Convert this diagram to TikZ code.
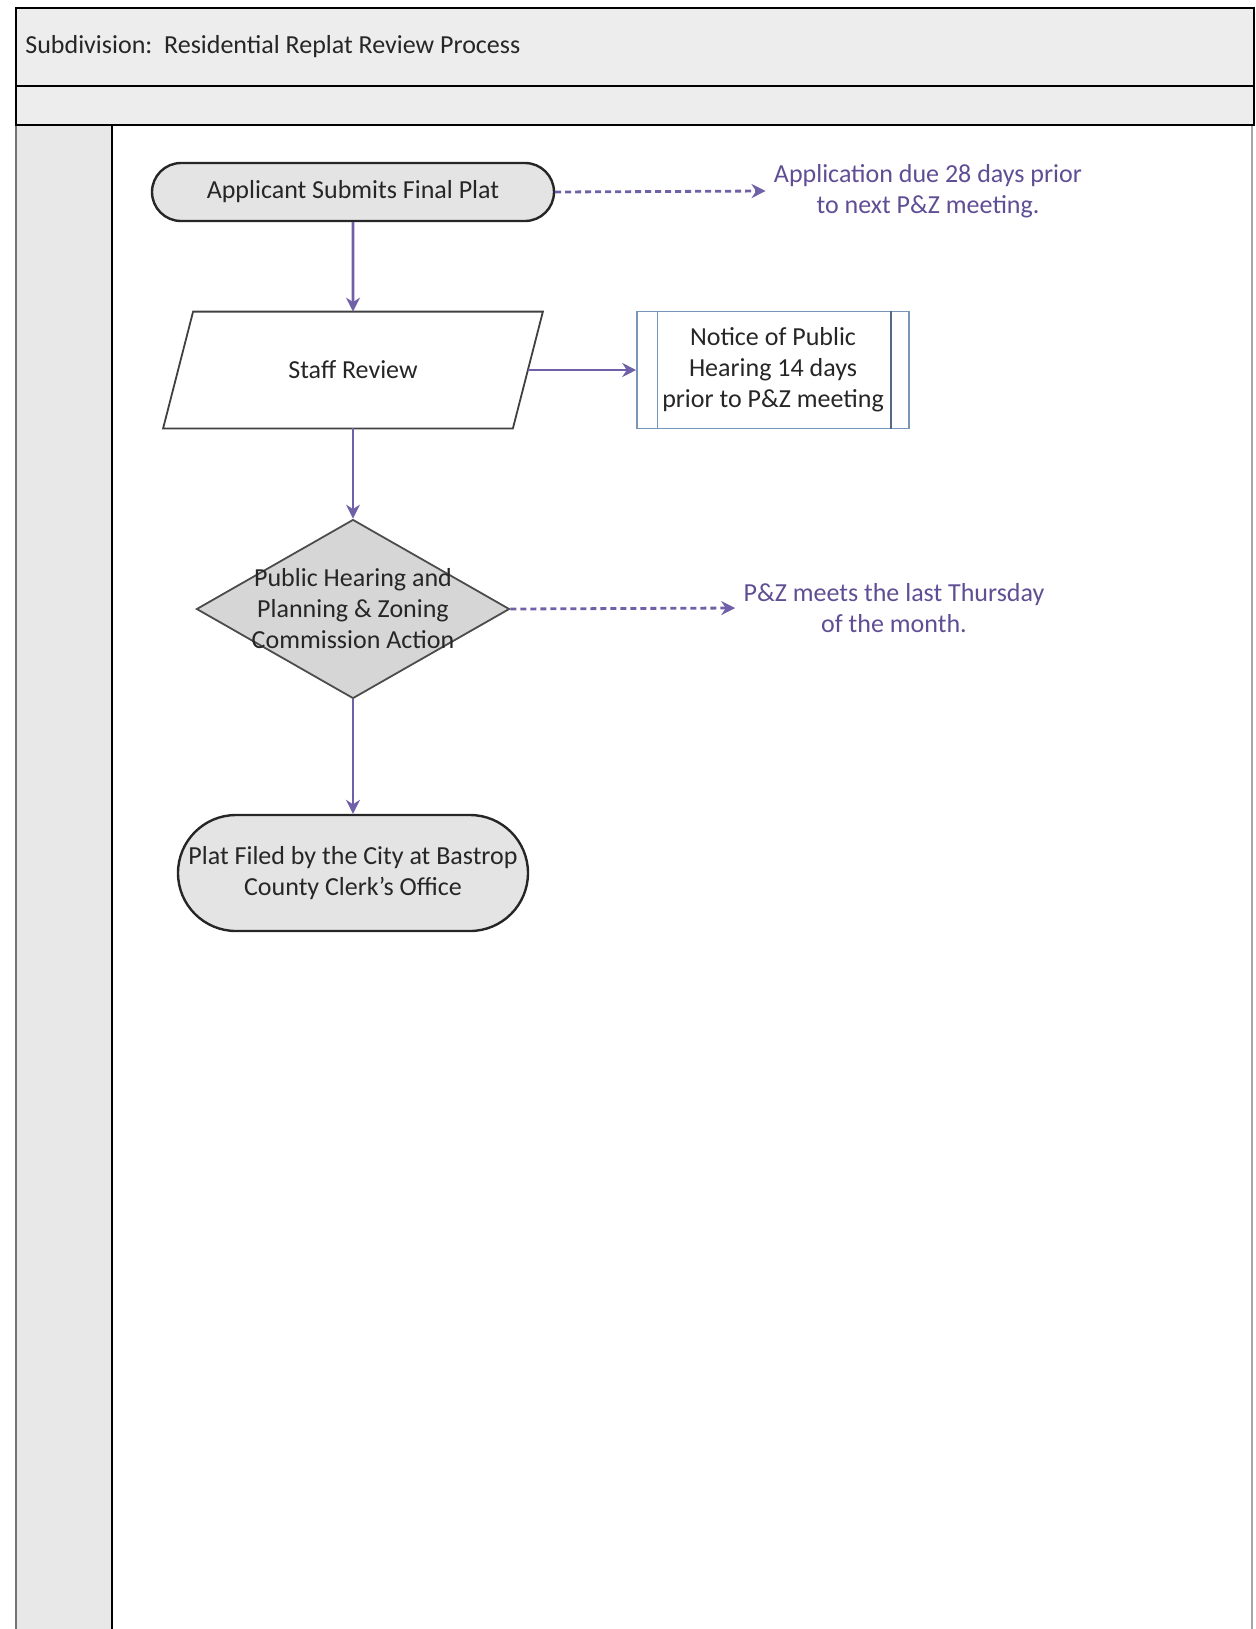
\documentclass[tikz,border=0pt]{standalone}
\usepackage{fontspec}
\setmainfont{Carlito}
\usetikzlibrary{shapes.geometric,shapes.misc,arrows.meta}
\definecolor{flowpurple}{RGB}{112,96,168}
\definecolor{notepurple}{RGB}{96,78,148}
\definecolor{laneGray}{RGB}{232,232,232}
\definecolor{boxGray}{RGB}{228,228,228}
\definecolor{noticeBlue}{RGB}{120,150,185}

\begin{document}
\begin{tikzpicture}[
            x=0.5pt, y=-0.5pt,
            font=\fontsize{13}{15.5}\selectfont,
            terminal/.style={
                rounded rectangle,
                draw=black!85,
                line width=1.2pt,
                fill=boxGray,
                align=center,
                text=black!85,
                inner sep=0pt
            },
            process/.style={
                rectangle,
                draw=none,
                minimum width=189.5pt,
                minimum height=58pt,
                inner sep=0pt,
                text=black!85
            },
            slantline/.style={draw=black!75, line width=0.9pt, line join=miter},
            decision/.style={
                diamond,
                draw=black!70,
                line width=0.9pt,
                fill=boxGray!94!black,
                minimum width=156.5pt,
                minimum height=89.5pt,
                inner sep=0pt
            },
            notice/.style={
                rectangle,
                draw=noticeBlue,
                line width=0.8pt,
                minimum width=136pt,
                minimum height=58.5pt,
                align=center,
                text=black!85
            },
            note/.style={align=center, text=notepurple, inner sep=4pt},
            arrow/.style={-{Stealth[length=7pt,width=7pt]}, draw=flowpurple, line width=1.4pt},
            dasharrow/.style={arrow, dash pattern=on 3pt off 2pt}
        ]
        \useasboundingbox (0,0) rectangle (1256,1629);

        % Pool and lanes
        \draw[fill=laneGray, draw=black!55, line width=0.8pt] (16,125) rectangle (112,1640);
        \draw[black, line width=1.1pt] (112,125) -- (112,1640);
        \draw[black!35, line width=0.6pt] (1252,125) -- (1252,1640);
        \draw[fill=laneGray!80, draw=black, line width=1pt] (16,86) rectangle (1254,125);
        \draw[fill=laneGray!80, draw=black, line width=1pt] (16,8) rectangle (1254,86);
        \node[anchor=west, inner sep=0pt, text=black!85] (pooltitle) at (25,47) {Subdivision:\ \ Residential Replat Review Process};

        % Flow steps
        \node[terminal, minimum width=201pt, minimum height=29pt] (submit) at (353,192) {Applicant Submits Final Plat};
        \node[process] (review) at (353,370) {Staff Review};
        \draw[slantline] ([xshift=15pt]review.north west) -- (review.north east)
            -- ([xshift=-15pt]review.south east) -- (review.south west) -- cycle;
        \node[notice] (notice) at (773,370) {Notice of Public\\Hearing 14 days\\prior to P\&Z meeting};
        \draw[noticeBlue, line width=0.6pt] ([xshift=10.5pt]notice.north west) -- ([xshift=10.5pt]notice.south west);
        \draw[noticeBlue!70!black, line width=1pt] ([xshift=-9.5pt]notice.north east) -- ([xshift=-9.5pt]notice.south east);
        \node[decision] (hearing) at (353,609) {};
        \node[align=center, text=black!85] (hearingtext) at (hearing) {Public Hearing and\\Planning \& Zoning\\Commission Action};
        \node[terminal, minimum width=175pt, minimum height=58pt] (filed) at (353,873) {Plat Filed by the City at Bastrop\\County Clerk’s Office};

        % Side notes
        \node[note] (duenote) at (928,191) {Application due 28 days prior\\to next P\&Z meeting.};
        \node[note] (meetnote) at (894,608) {P\&Z meets the last Thursday\\of the month.};

        % Connecting arrows
        \draw[arrow] (submit) -- (review);
        \draw[arrow] ([xshift=-7.5pt]review.east) -- (notice.west);
        \draw[arrow] (review) -- (hearing);
        \draw[arrow] (hearing) -- (filed);
        \draw[dasharrow] (submit.east) -- (duenote.west);
        \draw[dasharrow] (hearing.east) -- (meetnote.west);

        \end{tikzpicture}
\end{document}
